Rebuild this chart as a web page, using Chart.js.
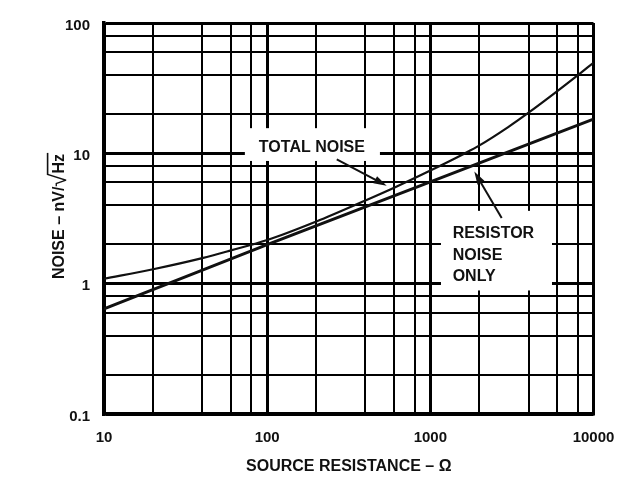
<!DOCTYPE html>
<html>
<head>
<meta charset="utf-8">
<script src="https://cdn.jsdelivr.net/npm/chart.js@4.4.1/dist/chart.umd.min.js"></script>
<style>
  body { margin: 0; background: #fff; }
  canvas { display: block; }
</style>
</head>
<body>
<canvas id="noiseChart" width="640" height="480"></canvas>
<script>
// values
const resistance = [10, 20, 40, 60, 100, 200, 400, 600, 1000, 1600, 2000, 3000, 4000, 6000, 8000, 10000];
const totalNoise = [1.09, 1.29, 1.57, 1.8, 2.16, 3.0, 4.35, 5.45, 7.38, 9.9, 11.5, 15.9, 20.5, 30.0, 39.7, 49.5];
const resistorR = [10, 100, 1000, 10000];
const resistorNoise = [0.64, 1.99, 6.05, 18.3];

const xTicks = [10, 20, 40, 60, 80, 100, 200, 400, 600, 800, 1000, 2000, 4000, 6000, 8000, 10000];
const yTicks = [0.1, 0.2, 0.4, 0.6, 0.8, 1, 2, 4, 6, 8, 10, 20, 40, 60, 80, 100];

const FONT = "'Liberation Sans', Arial, Helvetica, sans-serif";
const INK = '#111';

const isDecade = (v) => Math.abs(Math.log10(v) - Math.round(Math.log10(v))) < 1e-6;

// callout boxes / arrows, placed in data units (R, nV/rtHz)
const callouts = {
  total: {
    box: [73, 491, 8.74, 15.6],
    lines: ['TOTAL NOISE'],
    at: [188, 11.0],
    align: 'center',
    arrow: [267, 9.0, 540, 5.63],
  },
  resistor: {
    box: [1162, 5566, 0.887, 3.62],
    lines: ['RESISTOR', 'NOISE', 'ONLY'],
    at: [1370, 2.43],
    align: 'left',
    arrow: [2737, 3.19, 1860, 7.24],
  },
};

function drawArrow(ctx, x0, y0, x1, y1) {
  const a = Math.atan2(y1 - y0, x1 - x0);
  const head = 13, half = 4;
  ctx.beginPath();
  ctx.moveTo(x0, y0);
  ctx.lineTo(x1 - head * 0.8 * Math.cos(a), y1 - head * 0.8 * Math.sin(a));
  ctx.stroke();
  ctx.beginPath();
  ctx.moveTo(x1, y1);
  ctx.lineTo(x1 - head * Math.cos(a) + half * Math.sin(a), y1 - head * Math.sin(a) - half * Math.cos(a));
  ctx.lineTo(x1 - head * Math.cos(a) - half * Math.sin(a), y1 - head * Math.sin(a) + half * Math.cos(a));
  ctx.closePath();
  ctx.fill();
}

const calloutPlugin = {
  id: 'callouts',
  beforeDatasetsDraw(chart) {
    const { ctx, scales: { x, y } } = chart;
    ctx.save();
    ctx.fillStyle = '#fff';
    Object.values(callouts).forEach((c) => {
      const [r0, r1, v0, v1] = c.box;
      const px0 = x.getPixelForValue(r0), px1 = x.getPixelForValue(r1);
      const py0 = y.getPixelForValue(v1), py1 = y.getPixelForValue(v0);
      ctx.fillRect(px0, py0, px1 - px0, py1 - py0);
    });
    ctx.restore();
  },
  afterDraw(chart) {
    const { ctx, scales: { x, y }, chartArea } = chart;
    ctx.save();
    ctx.fillStyle = INK;
    ctx.strokeStyle = INK;
    ctx.lineWidth = 2;
    ctx.font = `bold 16px ${FONT}`;
    ctx.textBaseline = 'middle';
    Object.values(callouts).forEach((c) => {
      ctx.textAlign = c.align;
      const tx = x.getPixelForValue(c.at[0]);
      const ty = y.getPixelForValue(c.at[1]);
      c.lines.forEach((t, i) => ctx.fillText(t, tx, ty + i * 21.7));
      const [ar0, av0, ar1, av1] = c.arrow;
      drawArrow(ctx, x.getPixelForValue(ar0), y.getPixelForValue(av0),
        x.getPixelForValue(ar1), y.getPixelForValue(av1));
    });

    // y axis title with a tall radical over "Hz"
    const part1 = 'NOISE – nV/', rad = '√', part2 = 'Hz';
    ctx.translate(chartArea.left - 46, (chartArea.top + chartArea.bottom) / 2 - 2);
    ctx.rotate(-Math.PI / 2);
    ctx.textAlign = 'left';
    ctx.textBaseline = 'alphabetic';
    const w1 = ctx.measureText(part1).width;
    const w2 = ctx.measureText(part2).width;
    ctx.font = `24px ${FONT}`;
    const mr = ctx.measureText(rad);
    const total = w1 + mr.width + w2;
    const base = 5.8;
    let px = -total / 2;
    ctx.font = `bold 16px ${FONT}`;
    ctx.fillText(part1, px, base);
    px += w1;
    ctx.font = `24px ${FONT}`;
    ctx.fillText(rad, px, base + 2);
    px += mr.width;
    ctx.font = `bold 16px ${FONT}`;
    ctx.fillText(part2, px, base);
    const topY = base + 2 - mr.actualBoundingBoxAscent + 0.8;
    ctx.lineWidth = 1.6;
    ctx.beginPath();
    ctx.moveTo(px - 1.5, topY);
    ctx.lineTo(px + w2 + 1, topY);
    ctx.stroke();
    ctx.restore();
  },
};

const tickFont = { family: FONT, size: 15, weight: 'bold' };

const config = {
  type: 'line',
  data: {
    datasets: [
      {
        label: 'Total Noise',
        data: resistance.map((r, i) => ({ x: r, y: totalNoise[i] })),
        borderColor: INK,
        borderWidth: 2.2,
        pointRadius: 0,
        cubicInterpolationMode: 'monotone',
        fill: false,
      },
      {
        label: 'Resistor Noise Only',
        data: resistorR.map((r, i) => ({ x: r, y: resistorNoise[i] })),
        borderColor: INK,
        borderWidth: 3,
        pointRadius: 0,
        tension: 0,
        fill: false,
      },
    ],
  },
  options: {
    responsive: false,
    animation: false,
    layout: { padding: { top: 21.5, right: 46.5, bottom: 0, left: 0 } },
    plugins: {
      legend: { display: false },
      tooltip: { enabled: false },
    },
    scales: {
      x: {
        type: 'logarithmic',
        min: 10,
        max: 10000,
        afterBuildTicks: (s) => { s.ticks = xTicks.map((v) => ({ value: v })); },
        afterFit: (s) => { s.height = 66; },
        ticks: {
          autoSkip: false,
          maxRotation: 0,
          padding: 15,
          color: INK,
          font: tickFont,
          callback: (v) => (isDecade(v) ? String(v) : ''),
        },
        grid: {
          color: '#000',
          drawTicks: false,
          lineWidth: (c) => (c.tick && isDecade(c.tick.value) ? 3 : 2),
        },
        border: { display: true, color: '#000', width: 3.5 },
        title: {
          display: true,
          text: 'SOURCE RESISTANCE – Ω',
          color: INK,
          font: { family: FONT, size: 16, weight: 'bold' },
          padding: { top: 0, bottom: 4 },
        },
      },
      y: {
        type: 'logarithmic',
        min: 0.1,
        max: 100,
        afterBuildTicks: (s) => { s.ticks = yTicks.map((v) => ({ value: v })); },
        afterFit: (s) => { s.width = 104; },
        ticks: {
          autoSkip: false,
          padding: 14,
          labelOffset: 2.5,
          color: INK,
          font: tickFont,
          callback: (v) => (isDecade(v) ? String(v) : ''),
        },
        grid: {
          color: '#000',
          drawTicks: false,
          lineWidth: (c) => (c.tick && isDecade(c.tick.value) ? 3 : 2),
        },
        border: { display: true, color: '#000', width: 3.5 },
      },
    },
  },
  plugins: [calloutPlugin],
};

new Chart(document.getElementById('noiseChart'), config);
</script>
</body>
</html>
